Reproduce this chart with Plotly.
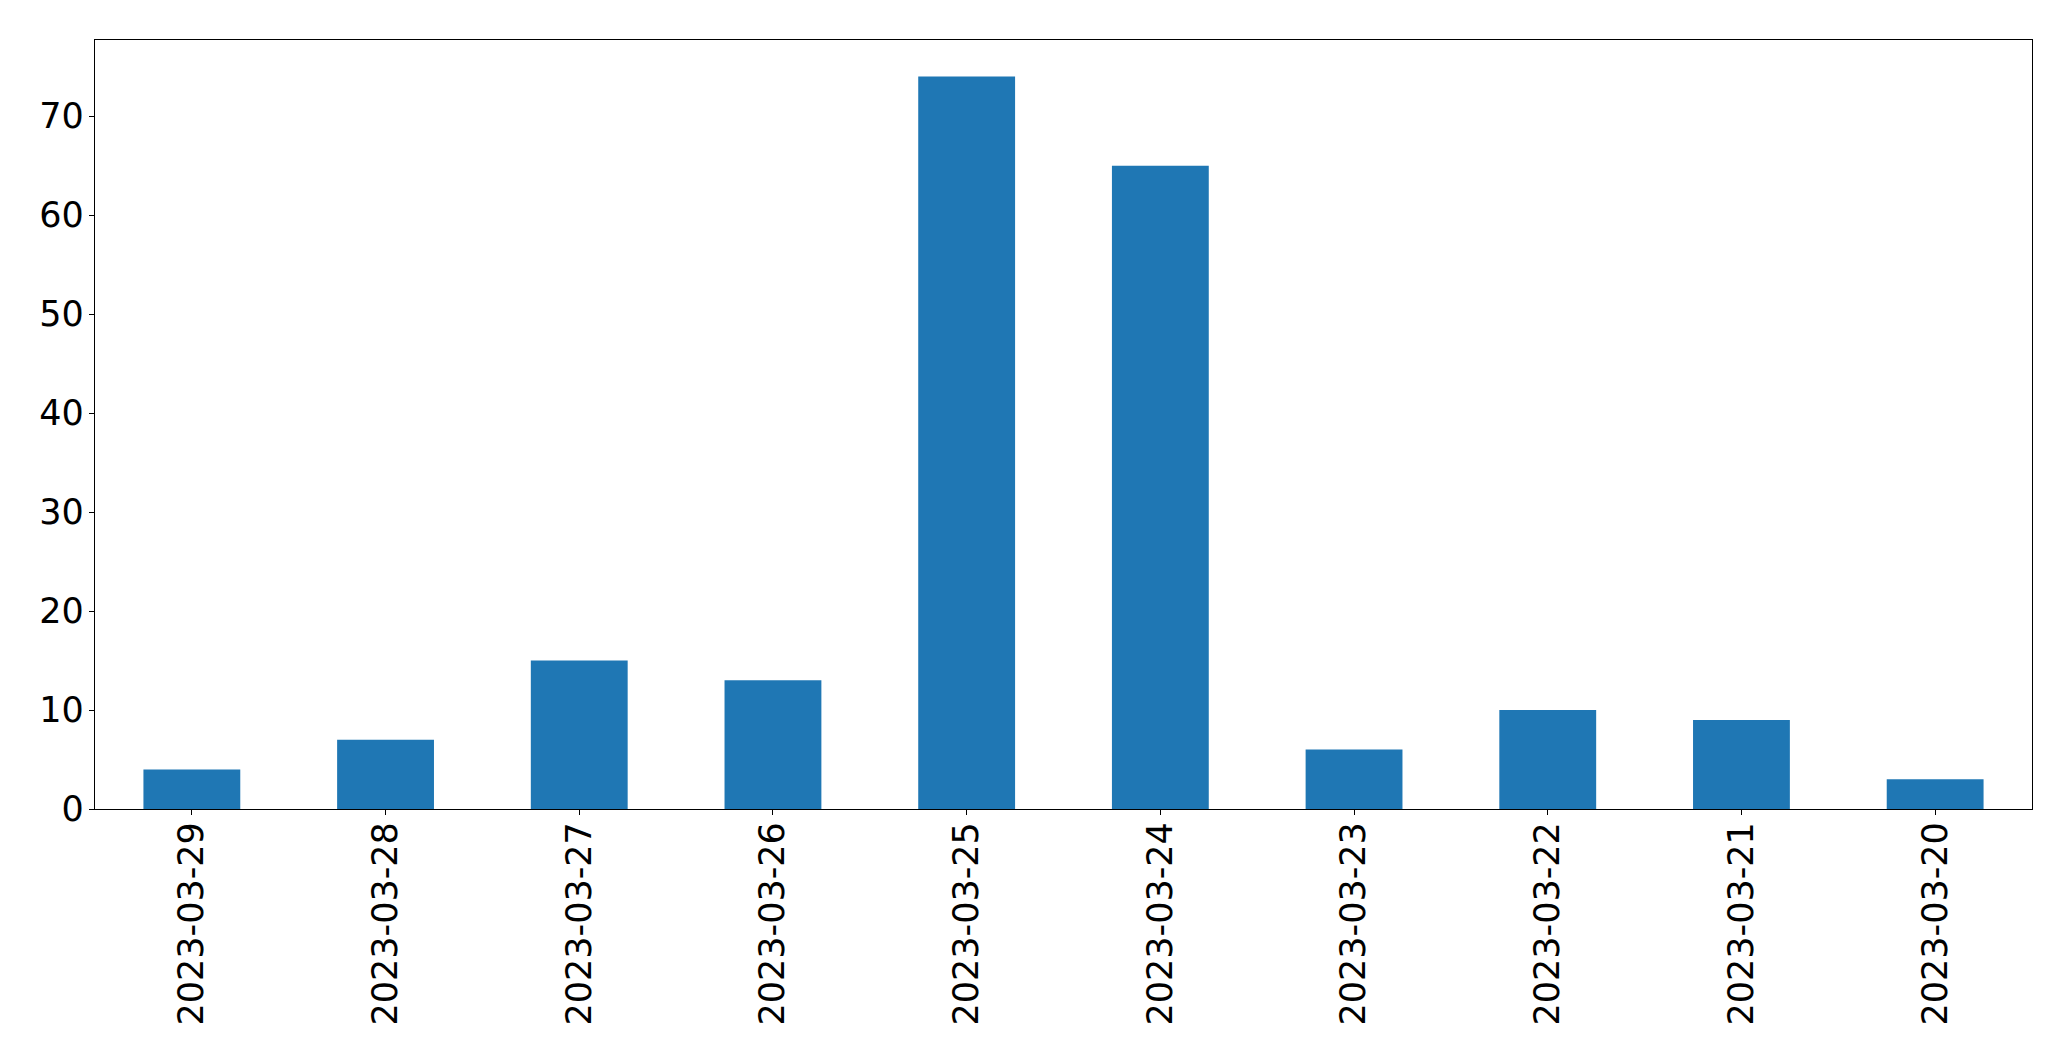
import plotly.graph_objects as go

dates = ["2023-03-29", "2023-03-28", "2023-03-27", "2023-03-26", "2023-03-25",
         "2023-03-24", "2023-03-23", "2023-03-22", "2023-03-21", "2023-03-20"]
counts = [4, 7, 15, 13, 74, 65, 6, 10, 9, 3]
y_ticks = [0, 10, 20, 30, 40, 50, 60, 70]

fig = go.Figure(go.Bar(x=dates, y=counts, width=0.5, marker=dict(color="#1f77b4", line=dict(width=0))))

axis_common = dict(showline=True, linecolor="black", linewidth=1.3, mirror=True,
                   ticks="outside", ticklen=5, tickwidth=1.3, tickcolor="black",
                   showgrid=False, zeroline=False,
                   tickfont=dict(family="DejaVu Sans", size=35, color="black"))

fig.update_xaxes(type="category", range=[-0.5, 9.5], tickangle=-90, ticklabelstandoff=-7, **axis_common)
fig.update_yaxes(range=[0, 77.7], tickvals=y_ticks, ticklabelstandoff=-2, **axis_common)

fig.update_layout(width=2071, height=1061, plot_bgcolor="white", paper_bgcolor="white",
                  margin=dict(l=95, r=39, t=40, b=252, autoexpand=False),
                  showlegend=False)

fig.write_html("out.html", config={"displayModeBar": False},
               post_script="document.body.style.margin='0';")
